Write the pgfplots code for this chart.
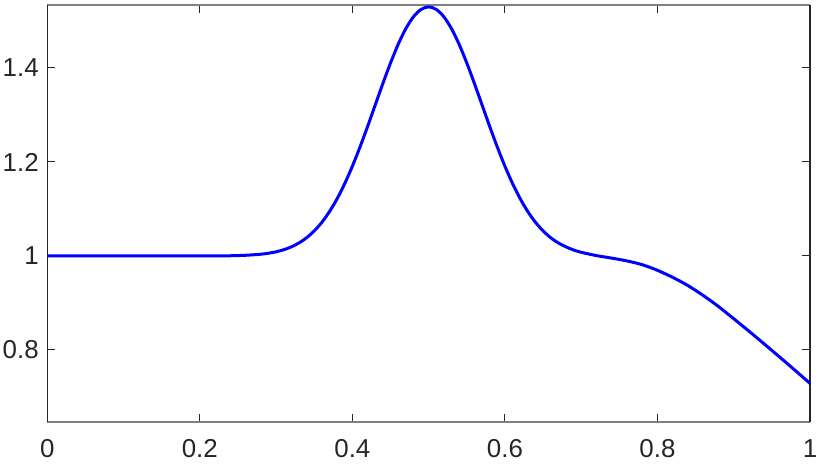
\documentclass[border=0pt]{standalone}
\usepackage{fontspec}
\setmainfont{Liberation Sans}
\usepackage{pgfplots}
\pgfplotsset{compat=1.18}
\definecolor{axgray}{RGB}{128,128,128}
\definecolor{txtgray}{RGB}{38,38,38}
\begin{document}
\begin{tikzpicture}
\begin{axis}[
  name=ax,
  scale only axis,
  width=381.35bp, height=208.5bp,
  xmin=0, xmax=1, ymin=0.6468, ymax=1.5340,
  xtick={0,0.2,0.4,0.6,0.8,1},
  ytick={0.8,1,1.2,1.4},
  xticklabels={0,0.2,0.4,0.6,0.8,1},
  yticklabels={0.8,1,1.2,1.4},
  tick align=inside,
  major tick length=4bp,
  tick style={txtgray, line width=0.5bp},
  axis line style={axgray, line width=0.6bp},
  separate axis lines,
  y axis line style={txtgray},
  ticklabel style={font=\fontsize{13}{15}\selectfont, text=txtgray},
  xticklabel style={yshift=-5.3bp},
  yticklabel style={xshift=-0.8bp},
  /pgf/number format/assume math mode=true,
  clip=true,
]
\addplot[color={rgb,255:red,0;green,0;blue,255}, line width=1.5bp, smooth] coordinates {
(0,1.0000) (0.05,1.0000) (0.10,1.0000) (0.15,1.0000) (0.20,1.0001)
(0.22,1.0002) (0.24,1.0005) (0.26,1.0015) (0.28,1.0038) (0.29,1.0059)
(0.30,1.0089) (0.31,1.0133) (0.32,1.0194) (0.33,1.0278) (0.34,1.0389)
(0.35,1.0534) (0.36,1.0717) (0.37,1.0945) (0.38,1.1219) (0.39,1.1542)
(0.40,1.1910) (0.41,1.2319) (0.42,1.2758) (0.43,1.3215) (0.44,1.3671)
(0.45,1.4106) (0.46,1.4502) (0.47,1.4835) (0.48,1.5088) (0.49,1.5246)
(0.50,1.5300) (0.51,1.5246) (0.52,1.5088) (0.53,1.4835) (0.54,1.4502)
(0.55,1.4106) (0.56,1.3671) (0.57,1.3215) (0.58,1.2758) (0.59,1.2319)
(0.60,1.1910) (0.61,1.1542) (0.62,1.1219) (0.63,1.0945) (0.64,1.0717)
(0.65,1.0534) (0.66,1.0389) (0.67,1.0278) (0.68,1.0194) (0.69,1.0128)
(0.70,1.0079) (0.72,1.0008) (0.74,0.9955) (0.76,0.9895) (0.78,0.9815)
(0.80,0.9695) (0.82,0.9545) (0.84,0.9370) (0.86,0.9160) (0.88,0.8925)
(0.90,0.8665) (0.92,0.8400) (0.94,0.8128) (0.96,0.7853) (0.98,0.7573)
(1.00,0.7290)
};
\end{axis}
\pgfresetboundingbox
\path[use as bounding box] ([xshift=-23.65bp,yshift=-22.5bp]ax.south west) rectangle ([xshift=10bp,yshift=2.5bp]ax.north east);
\end{tikzpicture}
\end{document}
